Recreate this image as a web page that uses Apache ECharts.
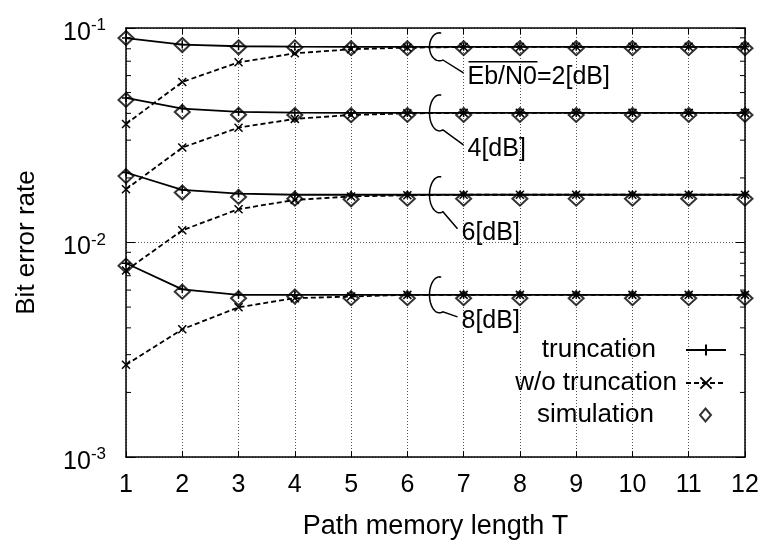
<!DOCTYPE html>
<html><head><meta charset="utf-8">
<script src="https://cdn.jsdelivr.net/npm/echarts@6/dist/echarts.min.js"></script>
<style>html,body{margin:0;padding:0;background:#fff}#c{width:769px;height:548px}</style>
</head><body><div id="c"></div>
<script>
// ---- data ----
const pathMemoryT = [1, 2, 3, 4, 5, 6, 7, 8, 9, 10, 11, 12];

const truncation2 = [0.0898, 0.0837, 0.0822, 0.0818, 0.0817, 0.0817, 0.0817, 0.0817, 0.0817, 0.0817, 0.0817, 0.0817];
const woTruncation2 = [0.0357, 0.0560, 0.0692, 0.0762, 0.0796, 0.0810, 0.0815, 0.0816, 0.0817, 0.0817, 0.0817, 0.0817];
const simulation2 = [0.0898, 0.0833, 0.0813, 0.0812, 0.0805, 0.0805, 0.0805, 0.0805, 0.0805, 0.0805, 0.0805, 0.0805];

const truncation4 = [0.0472, 0.0421, 0.0406, 0.0403, 0.0402, 0.0402, 0.0402, 0.0402, 0.0402, 0.0402, 0.0402, 0.0402];
const woTruncation4 = [0.0177, 0.0277, 0.0343, 0.0377, 0.0393, 0.0400, 0.0402, 0.0402, 0.0402, 0.0402, 0.0402, 0.0402];
const simulation4 = [0.0462, 0.0406, 0.0394, 0.0393, 0.0392, 0.0393, 0.0393, 0.0393, 0.0393, 0.0393, 0.0393, 0.0393];

const truncation6 = [0.0212, 0.0176, 0.0169, 0.0167, 0.0167, 0.0167, 0.0167, 0.0167, 0.0167, 0.0167, 0.0167, 0.0167];
const woTruncation6 = [0.0074, 0.0114, 0.0143, 0.0158, 0.0164, 0.0166, 0.0167, 0.0167, 0.0167, 0.0167, 0.0167, 0.0167];
const simulation6 = [0.0204, 0.0171, 0.0163, 0.0160, 0.0159, 0.0160, 0.0160, 0.0160, 0.0160, 0.0160, 0.0160, 0.0160];

const truncation8 = [0.0080, 0.00605, 0.0057, 0.0057, 0.0057, 0.0057, 0.0057, 0.0057, 0.0057, 0.0057, 0.0057, 0.0057];
const woTruncation8 = [0.00269, 0.00394, 0.00499, 0.0055, 0.0056, 0.0057, 0.0057, 0.0057, 0.0057, 0.0057, 0.0057, 0.0057];
const simulation8 = [0.0078, 0.0059, 0.0055, 0.0056, 0.0055, 0.0055, 0.0055, 0.0055, 0.0055, 0.0055, 0.0055, 0.0055];

const seriesNames = ['truncation', 'w/o truncation', 'simulation'];
const levelLabels = ['Eb/N0=2[dB]', '4[dB]', '6[dB]', '8[dB]'];
const minorTickValues = [0.002, 0.003, 0.004, 0.005, 0.006, 0.007, 0.008, 0.009,
                         0.02, 0.03, 0.04, 0.05, 0.06, 0.07, 0.08, 0.09];
const annotationX = 6.5;

// ---- styling ----
const FONT = '"Liberation Sans", Arial, Helvetica, sans-serif';
const truncs = [truncation2, truncation4, truncation6, truncation8];
const wos = [woTruncation2, woTruncation4, woTruncation6, woTruncation8];
const sims = [simulation2, simulation4, simulation6, simulation8];
const pair = arr => pathMemoryT.map((t, i) => [t, arr[i]]);

const PLUS = 'path://M0,5L10,5M5,0L5,10';
const CROSS = 'path://M0,0L10,10M10,0L0,10';

const series = [];
for (let k = 0; k < 4; k++) {
  series.push({
    name: seriesNames[0], type: 'line', data: pair(truncs[k]),
    symbol: PLUS, symbolSize: 8, showAllSymbol: true,
    lineStyle: { color: '#000', width: 1.8, type: 'solid' },
    itemStyle: { color: '#000', borderColor: '#000', borderWidth: 1.5 },
    emphasis: { disabled: true }, z: 3
  });
  series.push({
    name: seriesNames[1], type: 'line', data: pair(wos[k]),
    symbol: CROSS, symbolSize: 8, showAllSymbol: true,
    lineStyle: { color: '#000', width: 1.8, type: [5, 3] },
    itemStyle: { color: '#000', borderColor: '#000', borderWidth: 1.5 },
    emphasis: { disabled: true }, z: 3
  });
  series.push({
    name: seriesNames[2], type: 'scatter', data: pair(sims[k]),
    symbol: 'diamond', symbolSize: [15, 14],
    itemStyle: { color: 'rgba(0,0,0,0)', borderColor: '#000', borderWidth: 2 },
    emphasis: { disabled: true }, z: 4
  });
}
// minor ticks of the log axis (left and right), drawn via the axis scale
series.push({
  type: 'custom', silent: true, z: 5,
  data: minorTickValues.map(v => [1, v]),
  renderItem: (params, api) => {
    const v = api.value(1);
    const pL = api.coord([1, v]);
    const pR = api.coord([12, v]);
    return { type: 'group', children: [
      { type: 'line', shape: { x1: pL[0], y1: pL[1], x2: pL[0] + 5, y2: pL[1] }, style: { stroke: '#000', lineWidth: 1 } },
      { type: 'line', shape: { x1: pR[0] - 5, y1: pR[1], x2: pR[0], y2: pR[1] }, style: { stroke: '#000', lineWidth: 1 } }
    ]};
  }
});

const legendCommon = {
  orient: 'vertical', align: 'right', padding: 0, itemGap: 0,
  selectedMode: false,
  textStyle: { fontSize: 26, fontFamily: FONT, color: '#000', lineHeight: 30 }
};

const option = {
  animation: false,
  backgroundColor: '#fff',
  textStyle: { fontFamily: FONT },
  grid: { left: 126, right: 24, top: 28, bottom: 91, outerBoundsMode: 'none' },
  legend: [
    Object.assign({}, legendCommon, { data: [seriesNames[0]], top: 335, right: 42, itemWidth: 40, itemHeight: 14,
      textStyle: Object.assign({}, legendCommon.textStyle, { padding: [0, 25, 0, 0] }) }),
    Object.assign({}, legendCommon, { data: [seriesNames[1]], top: 368, right: 42, itemWidth: 40, itemHeight: 14,
      textStyle: Object.assign({}, legendCommon.textStyle, { padding: [0, 4, 0, 0] }) }),
    Object.assign({}, legendCommon, { data: [seriesNames[2]], top: 400, right: 57, itemWidth: 11, itemHeight: 13,
      textStyle: Object.assign({}, legendCommon.textStyle, { padding: [0, 41, 0, 0] }) })
  ],
  xAxis: [{
    type: 'value', min: 1, max: 12, interval: 1,
    name: 'Path memory length T', nameLocation: 'middle', nameGap: 56,
    nameTextStyle: { fontSize: 27, color: '#000', fontFamily: FONT },
    axisLine: { show: true, lineStyle: { color: '#000', width: 1.5 } },
    axisTick: { show: true, inside: true, length: 6, lineStyle: { color: '#000' } },
    axisLabel: { fontSize: 25, color: '#000', margin: 16, fontFamily: FONT },
    splitLine: { show: true, lineStyle: { color: '#555', type: [1, 2], width: 1 } }
  }, {
    type: 'value', min: 1, max: 12, interval: 1, position: 'top',
    axisLine: { show: true, lineStyle: { color: '#000', width: 1.5 } },
    axisTick: { show: true, inside: true, length: 6, lineStyle: { color: '#000' } },
    axisLabel: { show: false }, splitLine: { show: false }
  }],
  yAxis: [{
    type: 'log', logBase: 10, min: 0.001, max: 0.1,
    name: 'Bit error rate', nameLocation: 'middle', nameGap: 86,
    nameTextStyle: { fontSize: 26, color: '#000', fontFamily: FONT },
    axisLine: { show: true, lineStyle: { color: '#000', width: 1.5 } },
    axisTick: { show: true, inside: true, length: 9, lineStyle: { color: '#000' } },
    axisLabel: {
      color: '#000', margin: 20, padding: [10, 0, 0, 0],
      formatter: v => '{b|10}{s|' + Math.round(Math.log10(v)) + '}',
      rich: {
        b: { fontSize: 25, lineHeight: 32, fontFamily: FONT, color: '#000' },
        s: { fontSize: 17, lineHeight: 8, verticalAlign: 'top', fontFamily: FONT, color: '#000' }
      }
    },
    splitLine: { show: true, lineStyle: { color: '#555', type: [1, 2], width: 1 } }
  }, {
    type: 'log', logBase: 10, min: 0.001, max: 0.1, position: 'right',
    axisLine: { show: true, lineStyle: { color: '#000', width: 1.5 } },
    axisTick: { show: true, inside: true, length: 9, lineStyle: { color: '#000' } },
    axisLabel: { show: false }, splitLine: { show: false }
  }],
  series: series
};

const chart = echarts.init(document.getElementById('c'), null, { renderer: 'canvas' });
chart.setOption(option);

// ---- annotations (ellipse brackets + labels), anchored through the axis scales ----
const ellipseRy = [14, 18, 18, 18];
const labelDx = [28, 28, 22, 22];
const labelDy = [30, 36, 38, 26];
const elements = [];
for (let k = 0; k < 4; k++) {
  const p = chart.convertToPixel({ xAxisIndex: 0, yAxisIndex: 0 }, [annotationX, truncs[k][11]]);
  const cx = p[0] + 4, cy = p[1], rx = 10, ry = ellipseRy[k];
  const lx = cx + labelDx[k], ly = cy + labelDy[k];
  const pts = [];
  for (let a = -80; a >= -290; a -= 5) {
    const r = a * Math.PI / 180;
    pts.push([cx + rx * Math.cos(r), cy + ry * Math.sin(r)]);
  }
  pts.push([lx - 4, ly - 4]);
  elements.push({ type: 'polyline', shape: { points: pts }, style: { stroke: '#000', lineWidth: 1.5, fill: null }, z: 10 });
  elements.push({ type: 'text', x: lx, y: ly, style: { text: levelLabels[k], fontSize: 25, fontFamily: FONT, fill: '#000', align: 'left', verticalAlign: 'middle' }, z: 10 });
  if (k === 0) {
    elements.push({ type: 'line', shape: { x1: lx + 1, y1: ly - 15, x2: lx + 70, y2: ly - 15 }, style: { stroke: '#000', lineWidth: 1.5 }, z: 10 });
  }
}
chart.setOption({ graphic: elements });
</script>
</body></html>
